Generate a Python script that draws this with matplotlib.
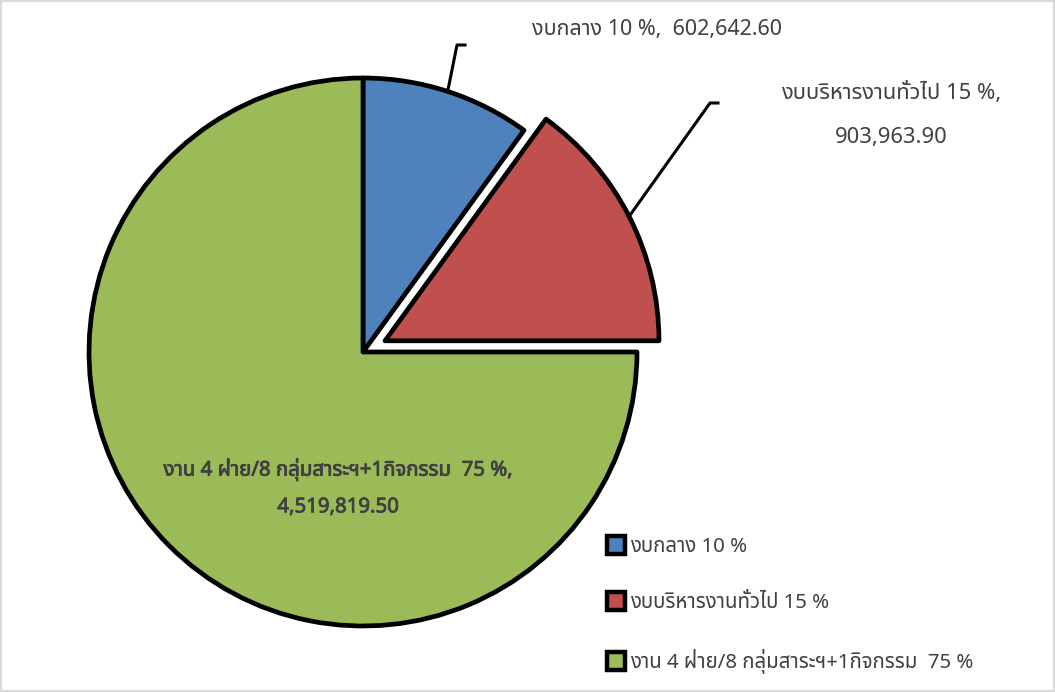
import numpy as np
import matplotlib
matplotlib.use('Agg')
import matplotlib.pyplot as plt
from matplotlib.lines import Line2D
from matplotlib.patches import Rectangle
import matplotlib.patheffects as pe

plt.rcParams['font.family'] = ['Noto Sans Thai', 'DejaVu Sans']

# data
names = ['งบกลาง 10 %', 'งบบริหารงานทั่วไป 15 %', 'งาน 4 ฝ่าย/8 กลุ่มสาระฯ+1กิจกรรม  75 %']
amounts = [602642.60, 903963.90, 4519819.50]
pcts = [10, 15, 75]
colors = ['#4F81BD', '#C0504D', '#9BBB59']
explode = [0, 0.09, 0]

W, H = 1055, 692
cx, cy, r = 363, 352, 274   # pie centre / radius in pixels

fig = plt.figure(figsize=(W / 100, H / 100), dpi=100)
lim = 1.3
ax = fig.add_axes([(cx - lim * r) / W, (H - cy - lim * r) / H, 2 * lim * r / W, 2 * lim * r / H])

wedges, _ = ax.pie(amounts, colors=colors, explode=explode, startangle=90, counterclock=False,
                   radius=1, wedgeprops=dict(edgecolor='black', linewidth=3.4, joinstyle='round'))
ax.set_aspect('auto')
ax.set_xlim(-lim, lim)
ax.set_ylim(-lim, lim)
ax.axis('off')

def px(x, y):
    return (x - cx) / r, (cy - y) / r

txt = '#404040'

# blue label with leader
a0 = np.deg2rad(90 - 360 * pcts[0] / 100 / 2)
p0 = (np.cos(a0), np.sin(a0))
k1, k2 = px(457, 45), px(465, 45)
ax.plot([p0[0], k1[0], k2[0]], [p0[1], k1[1], k2[1]], color='black', lw=2.2, clip_on=False)
ax.text(*px(657, 30), '%s,  %s' % (names[0], f'{amounts[0]:,.2f}'),
        ha='center', va='center', fontsize=15.5, color=txt)

# red label with leader
a1 = np.deg2rad(90 - 360 * (pcts[0] + pcts[1] / 2) / 100)
p1 = ((1 + explode[1]) * np.cos(a1), (1 + explode[1]) * np.sin(a1))
k1, k2 = px(710, 103), px(718, 103)
ax.plot([p1[0], k1[0], k2[0]], [p1[1], k1[1], k2[1]], color='black', lw=2.2, clip_on=False)
ax.text(*px(891, 115), '%s,\n%s' % (names[1], f'{amounts[1]:,.2f}'),
        ha='center', va='center', fontsize=15.8, color=txt, linespacing=2.45, multialignment='center')

# green label inside
ax.text(*px(338, 487), '%s,\n%s' % (names[2], f'{amounts[2]:,.2f}'),
        ha='center', va='center', fontsize=14.7, color=txt, fontweight='bold', linespacing=2.05,
        multialignment='center', path_effects=[pe.withStroke(linewidth=0.6, foreground=txt)])

handles = [Line2D([], [], ls='none', marker='s', markersize=12.5, markerfacecolor=c,
                  markeredgecolor='black', markeredgewidth=3.2) for c in colors]
fig.legend(handles, names, loc='upper left', bbox_to_anchor=(607 / W, 1 - 537 / H), frameon=False,
           fontsize=14.7, labelcolor=txt, labelspacing=1.77, handlelength=0.9, handletextpad=0.25,
           borderpad=0, borderaxespad=0)

fig.patches.append(Rectangle((0.001, 0.001), 0.998, 0.997, transform=fig.transFigure, fill=False,
                             edgecolor='#D9D9D9', lw=1.5))

fig.savefig('out.png', dpi=100)
